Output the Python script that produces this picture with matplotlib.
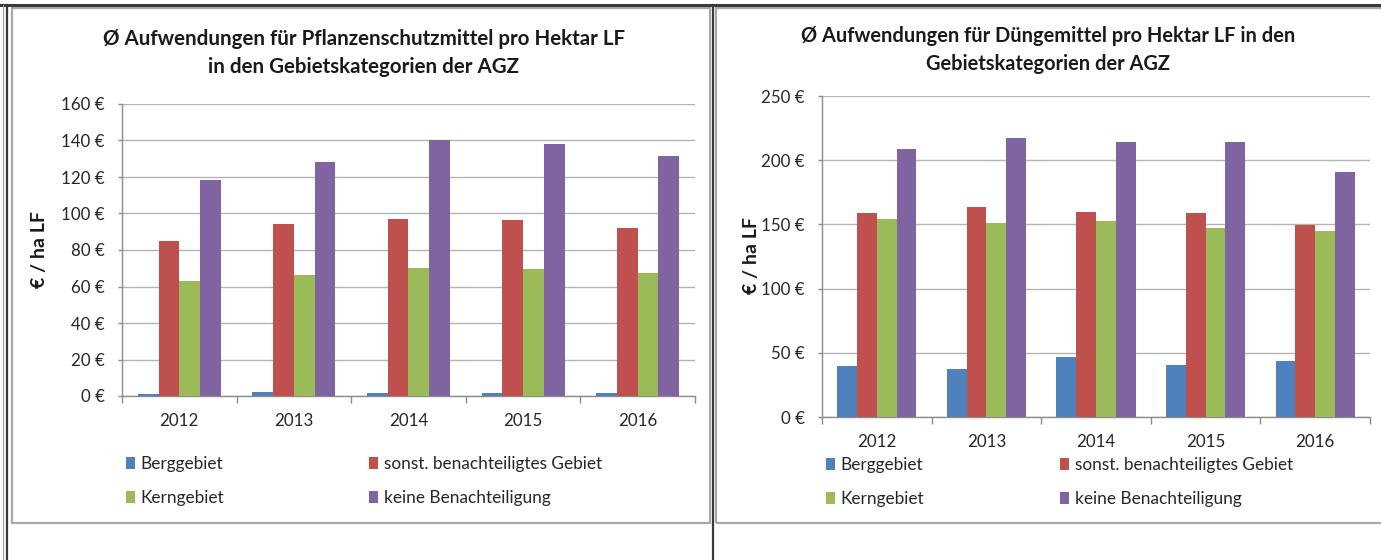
import matplotlib
matplotlib.use("Agg")
import matplotlib.pyplot as plt
import numpy as np
from matplotlib.lines import Line2D
from matplotlib.patches import Rectangle

plt.rcParams['font.family'] = ['Lato', 'DejaVu Sans']

# ---------------- data ----------------
years = ["2012", "2013", "2014", "2015", "2016"]
series_names = ["Berggebiet", "sonst. benachteiligtes Gebiet", "Kerngebiet", "keine Benachteiligung"]

berg_psm = [1.0, 2.0, 1.5, 1.5, 1.5]
sonst_psm = [85.0, 94.0, 97.0, 96.5, 92.0]
kern_psm = [62.8, 66.5, 70.3, 69.5, 67.4]
keine_psm = [118.6, 128.4, 140.3, 138.0, 131.3]

berg_dm = [40.0, 37.6, 46.4, 40.4, 43.8]
sonst_dm = [158.7, 163.9, 159.8, 159.2, 149.4]
kern_dm = [154.0, 151.4, 152.5, 147.3, 145.0]
keine_dm = [208.5, 217.0, 214.0, 214.0, 190.6]

psm_ticks = [0, 20, 40, 60, 80, 100, 120, 140, 160]
dm_ticks = [0, 50, 100, 150, 200, 250]

title_psm = "Ø Aufwendungen für Pflanzenschutzmittel pro Hektar LF\nin den Gebietskategorien der AGZ"
title_dm = "Ø Aufwendungen für Düngemittel pro Hektar LF in den\nGebietskategorien der AGZ"
ylabel = "€ / ha LF"

colors = ["#4F81BD", "#C0504D", "#9BBB59", "#8064A2"]

W, H = 1381, 560
fig = plt.figure(figsize=(W / 100, H / 100), dpi=100)
fig.patch.set_facecolor("white")


def fx(px):
    return px / W


def fy(py):
    return 1 - py / H


def add_ax(x0, y0, x1, y1):
    return fig.add_axes([fx(x0), fy(y1), fx(x1) - fx(x0), fy(y0) - fy(y1)])


# ---- table lines and chart frames ----
tcol = "#3a3a3a"
fig.add_artist(Line2D([fx(0), fx(W)], [fy(5), fy(5)], color=tcol, lw=2.2))
fig.add_artist(Line2D([fx(7), fx(7)], [fy(5), fy(H)], color=tcol, lw=1.6))
fig.add_artist(Line2D([fx(3), fx(3)], [fy(5), fy(H)], color="#9a9a9a", lw=0.8))
fig.add_artist(Line2D([fx(713), fx(713)], [fy(5), fy(H)], color=tcol, lw=1.6))

for (x0, x1) in [(12, 710), (716, 1385)]:
    fig.add_artist(Rectangle((fx(x0), fy(523)), fx(x1) - fx(x0), fy(8) - fy(523),
                             transform=fig.transFigure, fill=False,
                             edgecolor="#a8a8a8", lw=1.6))


def draw_chart(rect, series, ticks, title, title_xy, ylabel_xy, leg_xy, tsize):
    ax = add_ax(*rect)
    x = np.arange(len(years))
    w = 0.181
    bars = []
    for i, (vals, c) in enumerate(zip(series, colors)):
        b = ax.bar(x + (i - 1.5) * w, vals, width=w, color=c, zorder=3, linewidth=0)
        bars.append(b)
    ax.set_xlim(-0.5, len(years) - 0.5)
    ax.set_ylim(ticks[0], ticks[-1])
    ax.set_yticks(ticks)
    ax.set_yticklabels([f"{t} €" for t in ticks])
    ax.grid(axis="y", color="#b4b4b4", lw=1.0, zorder=0)
    ax.set_xticks(np.arange(-0.5, len(years), 1.0))
    ax.set_xticklabels([])
    ax.set_xticks(x, minor=True)
    ax.set_xticklabels(years, minor=True)
    ax.tick_params(axis="x", which="major", length=5, color="#8c8c8c", width=1)
    ax.tick_params(axis="x", which="minor", length=0, pad=12.5, labelsize=12.2, labelcolor="#262626")
    ax.tick_params(axis="y", length=3, color="#8c8c8c", width=1, pad=9.5, labelsize=12.2,
                   labelcolor="#262626")
    for s in ["top", "right"]:
        ax.spines[s].set_visible(False)
    for s in ["left", "bottom"]:
        ax.spines[s].set_color("#8c8c8c")
        ax.spines[s].set_linewidth(1)
    fig.text(fx(title_xy[0]), fy(title_xy[1]), title, ha="center", va="center",
             fontsize=tsize, fontweight="bold", color="#1a1a1a", linespacing=1.45)
    fig.text(fx(ylabel_xy[0]), fy(ylabel_xy[1]), ylabel, ha="center", va="center",
             rotation=90, fontsize=14, fontweight="bold", color="#1a1a1a")
    # legends (two columns)
    cols = [[bars[0], bars[2]], [bars[1], bars[3]]]
    labs = [[series_names[0], series_names[2]], [series_names[1], series_names[3]]]
    for (lx, ly), hs, ls in zip(leg_xy, cols, labs):
        leg = fig.legend(hs, ls, loc="upper left", bbox_to_anchor=(fx(lx), fy(ly)),
                         frameon=False, borderpad=0, borderaxespad=0, handlelength=0.55,
                         handleheight=0.7, handletextpad=0.3, labelspacing=1.05,
                         fontsize=12.4)
        for t in leg.get_texts():
            t.set_color("#262626")
    return ax


draw_chart((122, 104, 695, 396), [berg_psm, sonst_psm, kern_psm, keine_psm], psm_ticks,
           title_psm, (364, 53), (40, 250), [(126, 456), (369, 456)], 14.8)
draw_chart((822, 96, 1370, 417), [berg_dm, sonst_dm, kern_dm, keine_dm], dm_ticks,
           title_dm, (1048, 50), (752, 256), [(826, 457), (1060, 457)], 14.4)

fig.savefig("out.png", dpi=100, facecolor="white")
